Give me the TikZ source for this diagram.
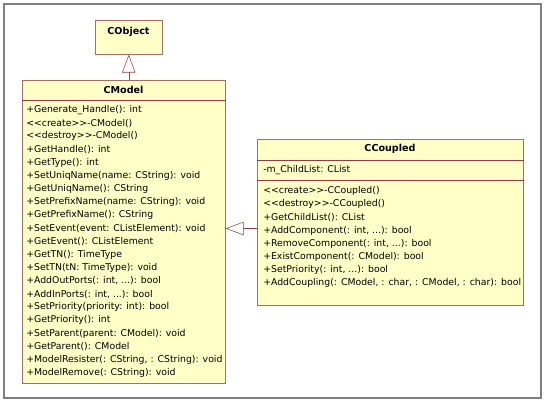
\documentclass[tikz,border=0pt]{standalone}
\usepackage{fontspec}
\setmainfont{DejaVu Sans}
\usetikzlibrary{arrows.meta}

\definecolor{umlfill}{RGB}{255,255,200}
\definecolor{umlline}{RGB}{170,110,90}
\definecolor{umlsep}{RGB}{150,60,60}
\definecolor{framegray}{RGB}{128,128,128}

\newcommand{\stereo}[1]{<{}<#1>{}>}
\newcommand{\ellip}{.{}.{}.}

\tikzset{
  classbox/.style={draw=umlline, fill=umlfill, rectangle, inner sep=0, anchor=north west},
  classname/.style={font=\fontsize{7.2}{8}\selectfont\bfseries, inner sep=0},
  member/.style={font=\fontsize{7}{8}\selectfont, inner sep=0, anchor=west},
  generalize/.style={draw=umlsep, -{Triangle[open, length=13.5pt, width=10pt, fill=white]}}
}

\begin{document}
\begin{tikzpicture}[x=0.75pt, y=-0.75pt]
    \useasboundingbox (0,0) rectangle (550,409);
    \draw[framegray, line width=1.1pt] (4,4) rectangle (541,398);

    % classes
    \node[classbox, minimum width=50.25pt, minimum height=25.5pt] (cobject) at (95,20) {};
    \node[classname] (cobjectname) at (128.5,32) {CObject};

    \node[classbox, minimum width=152.25pt, minimum height=227.25pt] (cmodel) at (22,80) {};
    \node[classname] (cmodelname) at (123.5,90) {CModel};
    \draw[umlsep] (cmodel.west |- 0,100) -- (cmodel.east |- 0,100);

    \node[classbox, minimum width=199.5pt, minimum height=124.5pt] (ccoupled) at (257,139) {};
    \node[classname] (ccoupledname) at (390,149) {CCoupled};
    \draw[umlsep] (ccoupled.west |- 0,160) -- (ccoupled.east |- 0,160);
    \draw[umlsep] (ccoupled.west |- 0,180) -- (ccoupled.east |- 0,180);

    % members
    \foreach \t [count=\i] in {+Generate\_Handle(): int, \stereo{create}-CModel(),
      \stereo{destroy}-CModel(), +GetHandle(): int, +GetType(): int,
      +SetUniqName(name: CString): void, +GetUniqName(): CString,
      +SetPrefixName(name: CString): void, +GetPrefixName(): CString,
      +SetEvent(event: CListElement): void, +GetEvent(): CListElement,
      +GetTN(): TimeType, +SetTN(tN: TimeType): void,
      {+AddOutPorts(: int, \ellip): bool}, {+AddInPorts(: int, \ellip): bool},
      +SetPriority(priority: int): bool, +GetPriority(): int,
      +SetParent(parent: CModel): void, +GetParent(): CModel,
      {+ModelResister(: CString, : CString): void}, +ModelRemove(: CString): void}
    \node[member] (m\i) at (26, 110+13.15*\i-13.15) {\t};

    \node[member] (attr1) at (263,170) {-m\_ChildList: CList};
    \foreach \t [count=\i] in {\stereo{create}-CCoupled(), \stereo{destroy}-CCoupled(),
      +GetChildList(): CList, {+AddComponent(: int, \ellip): bool},
      {+RemoveComponent(: int, \ellip): bool}, +ExistComponent(: CModel): bool,
      {+SetPriority(: int, \ellip): bool}, {+AddCoupling(: CModel, : char, : CModel, : char): bool}}
    \node[member] (c\i) at (263, 191+13.15*\i-13.15) {\t};

    % inheritance
    \draw[generalize] (cobject.south |- cmodel.north) -- (cobject.south);
    \coordinate (gen) at (257,228.5);
    \draw[generalize] (gen) -- (gen -| cmodel.east);
\end{tikzpicture}
\end{document}
